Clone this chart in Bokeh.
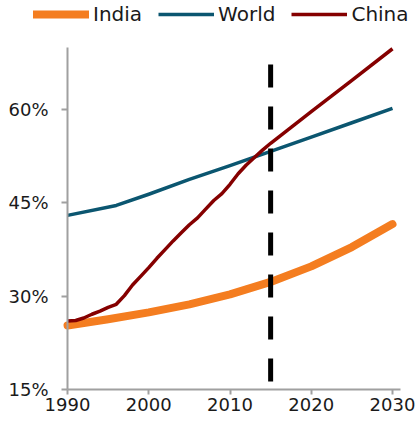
from bokeh.plotting import figure
from bokeh.models import Legend, LegendItem, FixedTicker, PrintfTickFormatter, Range1d
from bokeh.embed import file_html
from bokeh.resources import INLINE

# ---- data ----
india_years = [1990, 1995, 2000, 2005, 2010, 2015, 2020, 2025, 2030]
india_vals = [25.3, 26.3, 27.4, 28.7, 30.3, 32.3, 34.8, 37.9, 41.6]

world_years = [1990, 1996, 2000, 2005, 2010, 2015, 2020, 2025, 2030]
world_vals = [43.0, 44.6, 46.4, 48.8, 51.0, 53.3, 55.6, 57.9, 60.2]

china_years = [1990, 1991, 1992, 1993, 1994, 1995, 1996, 1997, 1998, 1999, 2000,
               2001, 2002, 2003, 2004, 2005, 2006, 2007, 2008, 2009, 2010, 2011,
               2012, 2013, 2014, 2015, 2020, 2025, 2030]
china_vals = [26.0, 26.1, 26.5, 27.1, 27.6, 28.2, 28.7, 30.1, 31.8, 33.2, 34.6,
              36.1, 37.5, 38.9, 40.2, 41.5, 42.6, 44.0, 45.4, 46.5, 48.0, 49.7,
              51.1, 52.3, 53.5, 54.6, 59.7, 64.7, 69.8]

marker_year = [2015, 2015]
marker_span = [16.3, 67.3]

x_ticks = [1990, 2000, 2010, 2020, 2030]
y_ticks = [15, 30, 45, 60]

series_names = ["India", "World", "China"]
series_colors = ["#F47D20", "#0B5670", "#850000"]
series_widths = [8, 3.5, 3.5]

FONT = "DejaVu Sans"

# axis extents (the frame itself is larger, to hold the legend and tick labels)
x_axis_bounds = (1990, 2031)
y_axis_bounds = (15, 70)

p = figure(width=418, height=424, x_range=Range1d(1981.75, 2033.2), y_range=Range1d(9.37, 77.56),
           output_backend="svg", toolbar_location=None,
           min_border_left=0, min_border_right=0, min_border_top=0, min_border_bottom=0)
p.outline_line_color = None
p.grid.visible = False

r_india = p.line(india_years, india_vals, line_color=series_colors[0], line_width=series_widths[0],
                 line_cap="round", line_join="round")
r_world = p.line(world_years, world_vals, line_color=series_colors[1], line_width=series_widths[1],
                 line_join="round")
r_china = p.line(china_years, china_vals, line_color=series_colors[2], line_width=series_widths[2],
                 line_join="round")
p.line(marker_year, marker_span, line_color="black", line_width=5, line_dash="23 19")

for ax in (p.xaxis[0], p.yaxis[0]):
    ax.axis_line_color = "#A0A0A0"
    ax.axis_line_width = 2
    ax.major_tick_line_color = "#A0A0A0"
    ax.major_tick_line_width = 2
    ax.major_tick_in = 0
    ax.minor_tick_line_color = None
    ax.major_label_text_font = FONT
    ax.major_label_text_font_size = "18px"
    ax.major_label_text_color = "#1a1a1a"

p.xaxis.ticker = FixedTicker(ticks=x_ticks)
p.xaxis.bounds = x_axis_bounds
p.xaxis.fixed_location = y_axis_bounds[0]
p.xaxis.major_tick_out = 5
p.xaxis.major_label_standoff = 4

p.yaxis.ticker = FixedTicker(ticks=y_ticks)
p.yaxis.formatter = PrintfTickFormatter(format="%d%%")
p.yaxis.bounds = y_axis_bounds
p.yaxis.fixed_location = x_axis_bounds[0]
p.yaxis.major_tick_out = 6
p.yaxis.major_label_standoff = 13

items = [LegendItem(label=n, renderers=[r]) for n, r in zip(series_names, [r_india, r_world, r_china])]
legend = Legend(items=items, location=(33, 398), orientation="horizontal",
                label_text_font=FONT, label_text_font_size="20px", label_text_color="#1a1a1a",
                glyph_width=56, glyph_height=20, label_height=20, label_standoff=4,
                spacing=16, padding=0, margin=0,
                border_line_color=None, background_fill_alpha=0)
p.add_layout(legend, "center")

open("out.html", "w").write(file_html(p, INLINE))
